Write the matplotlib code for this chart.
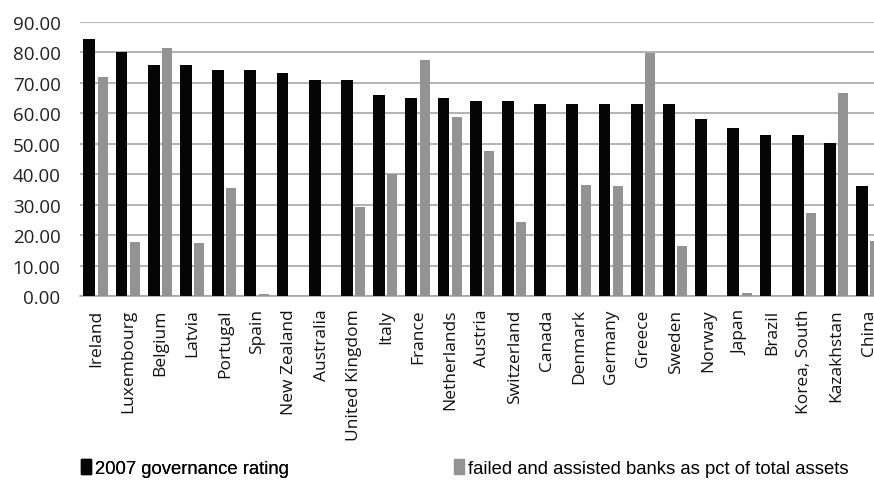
import numpy as np
import matplotlib.pyplot as plt
from matplotlib.patches import Patch

# kategorije i vrednosti
countries = ['Ireland', 'Luxembourg', 'Belgium', 'Latvia', 'Portugal', 'Spain',
             'New Zealand', 'Australia', 'United Kingdom', 'Italy', 'France',
             'Netherlands', 'Austria', 'Switzerland', 'Canada', 'Denmark',
             'Germany', 'Greece', 'Sweden', 'Norway', 'Japan', 'Brazil',
             'Korea, South', 'Kazakhstan', 'China']
governance = [84.3, 80.3, 75.8, 75.8, 74.1, 74.1, 73.1, 71.1, 71.1, 65.9, 64.9,
              64.9, 63.9, 63.9, 63.2, 63.2, 63.2, 63.2, 63.2, 58.1, 55.1, 53.0,
              53.0, 50.3, 36.0]
failed = [72.0, 17.7, 81.6, 17.4, 35.4, 0.8, 0.0, 0.0, 29.2, 40.1, 77.5,
          58.8, 47.6, 24.2, 0.0, 36.4, 36.0, 79.9, 16.3, 0.0, 1.1, 0.0,
          27.3, 66.6, 18.1]
yticks = np.arange(0, 91, 10)

x = np.arange(len(countries))

fig = plt.figure(figsize=(8.74, 4.85), dpi=100)
# osa namerno prelazi desnu ivicu slike (Kina je odsecena)
ax = fig.add_axes([80 / 874, 188 / 485, 805 / 874, 274 / 485])

ax.bar(x - 0.21, governance, width=0.37, color='#050505', zorder=3)
ax.bar(x + 0.2, failed, width=0.31, color='#939393', zorder=3)

ax.set_xlim(-0.5, len(countries) - 0.5)
ax.set_ylim(0, 90)
ax.set_yticks(yticks)
ax.set_yticklabels(['%.2f' % v for v in yticks], fontsize=13.5, family='Open Sans', color='#222222')
ax.set_xticks(x)
ax.set_xticklabels(countries, rotation=90, fontsize=12.5, family='Open Sans', color='#111111')
ax.tick_params(axis='both', length=0)
ax.tick_params(axis='y', pad=14)
ax.tick_params(axis='x', pad=9)

ax.grid(axis='y', color='#a6a6a6', linewidth=1.2, zorder=0)
for s in ['top', 'right', 'left']:
    ax.spines[s].set_visible(False)
ax.spines['bottom'].set_color('#a6a6a6')
ax.spines['bottom'].set_linewidth(1.2)

# legenda - dva dela, rucno postavljena
leg_font = {'family': 'Liberation Sans', 'size': 13.3}
leg1 = fig.legend(handles=[Patch(color='#050505', label='2007 governance rating')],
                  loc='lower left', bbox_to_anchor=(64 / 874, -0.02), frameon=False,
                  handlelength=0.55, handleheight=0.9, handletextpad=0.25, prop=leg_font)
fig.legend(handles=[Patch(color='#939393', label='failed and assisted banks as pct of total assets')],
           loc='lower left', bbox_to_anchor=(437 / 874, -0.02), frameon=False,
           handlelength=0.55, handleheight=0.9, handletextpad=0.25, prop=leg_font)
fig.add_artist(leg1)

fig.savefig('out.png', dpi=100)
